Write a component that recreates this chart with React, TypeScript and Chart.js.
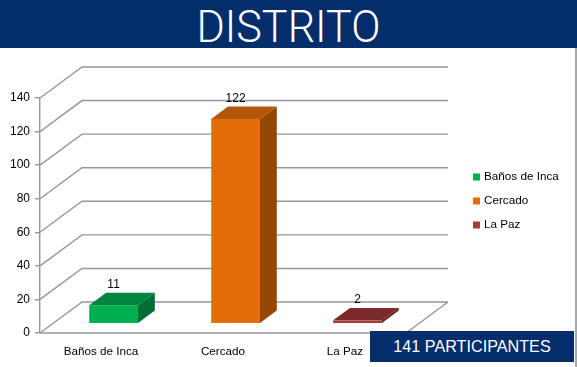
import React, { useEffect, useRef } from "react";
import { Chart, registerables } from "chart.js";

Chart.register(...registerables);

const categories = ["Baños de Inca", "Cercado", "La Paz"];
const values = [11, 122, 2];
const frontColors = ["#00B050", "#E46C0A", "#A23E3C"];
const topColors = ["#00853E", "#B25508", "#7A2B29"];
const sideColors = ["#006F33", "#944705", "#6A2422"];
const yMin = 0;
const yMax = 140;
const yStep = 20;
const titleText = "DISTRITO";
const footerText = "141 PARTICIPANTES";

const DX = 42;
const DY = -31;
const F0 = 0.3;
const F1 = 0.7;
const GRID = "#979797";
const FONT = "'Liberation Sans', Arial, sans-serif";

const depthPlugin = {
  id: "depth3d",
  beforeDatasetsDraw(chart: any) {
    const { ctx, chartArea: a, scales } = chart;
    const y = scales.y;
    ctx.save();
    ctx.strokeStyle = GRID;
    ctx.lineWidth = 1.4;
    y.ticks.forEach((t: any) => {
      const py = y.getPixelForValue(t.value);
      ctx.beginPath();
      ctx.moveTo(a.left, py);
      ctx.lineTo(a.left + DX, py + DY);
      ctx.lineTo(a.right + DX, py + DY);
      ctx.stroke();
    });
    const p0 = y.getPixelForValue(0);
    ctx.beginPath();
    ctx.moveTo(a.left, p0);
    ctx.lineTo(a.right, p0);
    ctx.lineTo(a.right + DX, p0 + DY);
    ctx.stroke();

    const meta = chart.getDatasetMeta(0);
    const dx = (F1 - F0) * DX;
    const dy = (F1 - F0) * DY;
    meta.data.forEach((el: any, i: number) => {
      const w = el.width;
      const xl = el.x - w / 2 + F0 * DX;
      const xr = xl + w;
      const yt = el.y + F0 * DY;
      const yb = el.base + F0 * DY;
      ctx.fillStyle = sideColors[i];
      ctx.beginPath();
      ctx.moveTo(xr, yt);
      ctx.lineTo(xr + dx, yt + dy);
      ctx.lineTo(xr + dx, yb + dy);
      ctx.lineTo(xr, yb);
      ctx.closePath();
      ctx.fill();
      ctx.fillStyle = topColors[i];
      ctx.beginPath();
      ctx.moveTo(xl, yt);
      ctx.lineTo(xr, yt);
      ctx.lineTo(xr + dx, yt + dy);
      ctx.lineTo(xl + dx, yt + dy);
      ctx.closePath();
      ctx.fill();
      ctx.fillStyle = frontColors[i];
      ctx.fillRect(xl, yt, w, yb - yt);
      ctx.fillStyle = "#000";
      ctx.font = `12px ${FONT}`;
      ctx.textAlign = "center";
      ctx.textBaseline = "middle";
      ctx.fillText(String(values[i]), xl + w / 2, yt + dy - 8);
    });

    ctx.font = `11.7px ${FONT}`;
    ctx.textAlign = "left";
    ctx.textBaseline = "middle";
    const legX = 473;
    const legY0 = 177;
    categories.forEach((c, i) => {
      const cy = legY0 + i * 24;
      ctx.fillStyle = frontColors[i];
      ctx.fillRect(legX, cy - 3.5, 7, 7);
      ctx.fillStyle = "#000";
      ctx.fillText(c, legX + 11, cy);
    });
    ctx.restore();
    return false;
  },
};

export default function App() {
  const ref = useRef<HTMLCanvasElement>(null);
  useEffect(() => {
    document.body.style.margin = "0";
    const chart = new Chart(ref.current as HTMLCanvasElement, {
      type: "bar",
      data: {
        labels: categories,
        datasets: [
          {
            label: "Participantes",
            data: values,
            backgroundColor: frontColors,
            categoryPercentage: 1,
            barPercentage: 0.4,
          },
        ],
      },
      options: {
        animation: false,
        responsive: false,
        devicePixelRatio: 1,
        layout: { padding: { top: 98, right: 171, bottom: 0, left: 0 } },
        plugins: { legend: { display: false }, tooltip: { enabled: false }, title: { display: false } },
        scales: {
          x: {
            grid: { display: false, drawTicks: false },
            border: { display: false },
            ticks: { color: "#000", font: { family: FONT, size: 11.7 }, padding: 12, maxRotation: 0 },
            afterFit: (s: any) => {
              s.height = 34;
            },
          },
          y: {
            min: yMin,
            max: yMax,
            grid: { drawOnChartArea: false, drawTicks: true, tickLength: 5, color: GRID, lineWidth: 1.4 },
            border: { display: true, color: GRID, width: 1.4 },
            ticks: { stepSize: yStep, color: "#000", font: { family: FONT, size: 12 }, padding: 5 },
            afterFit: (s: any) => {
              s.width = 40;
            },
          },
        },
      },
      plugins: [depthPlugin],
    });
    return () => chart.destroy();
  }, []);

  return (
    <div style={{ position: "absolute", left: 0, top: 0, width: 577, height: 367, background: "#fff", overflow: "hidden" }}>
      <canvas ref={ref} width={577} height={367} style={{ position: "absolute", left: 0, top: 0 }} />
      <div
        style={{
          position: "absolute",
          left: 0,
          top: 0,
          width: 577,
          height: 48,
          background: "#032D6B",
          overflow: "hidden",
        }}
      >
        <div
          style={{
            position: "absolute",
            left: 0,
            top: 3,
            width: 577,
            color: "#fff",
            fontFamily: "Roboto, 'Liberation Sans', Arial, sans-serif",
            fontWeight: 300,
            fontSize: 45,
            lineHeight: "48px",
            textAlign: "center",
            transform: "scaleX(0.96)",
            transformOrigin: "287px 0",
          }}
        >
          {titleText}
        </div>
      </div>
      <div style={{ position: "absolute", left: 575, top: 48, width: 2, height: 319, background: "#a8a8a8" }} />
      <div
        style={{
          position: "absolute",
          left: 370,
          top: 331,
          width: 204,
          height: 31,
          background: "#032D6B",
          color: "#fff",
          fontFamily: FONT,
          fontSize: 16.2,
          lineHeight: "31px",
          textAlign: "center",
        }}
      >
        {footerText}
      </div>
    </div>
  );
}
